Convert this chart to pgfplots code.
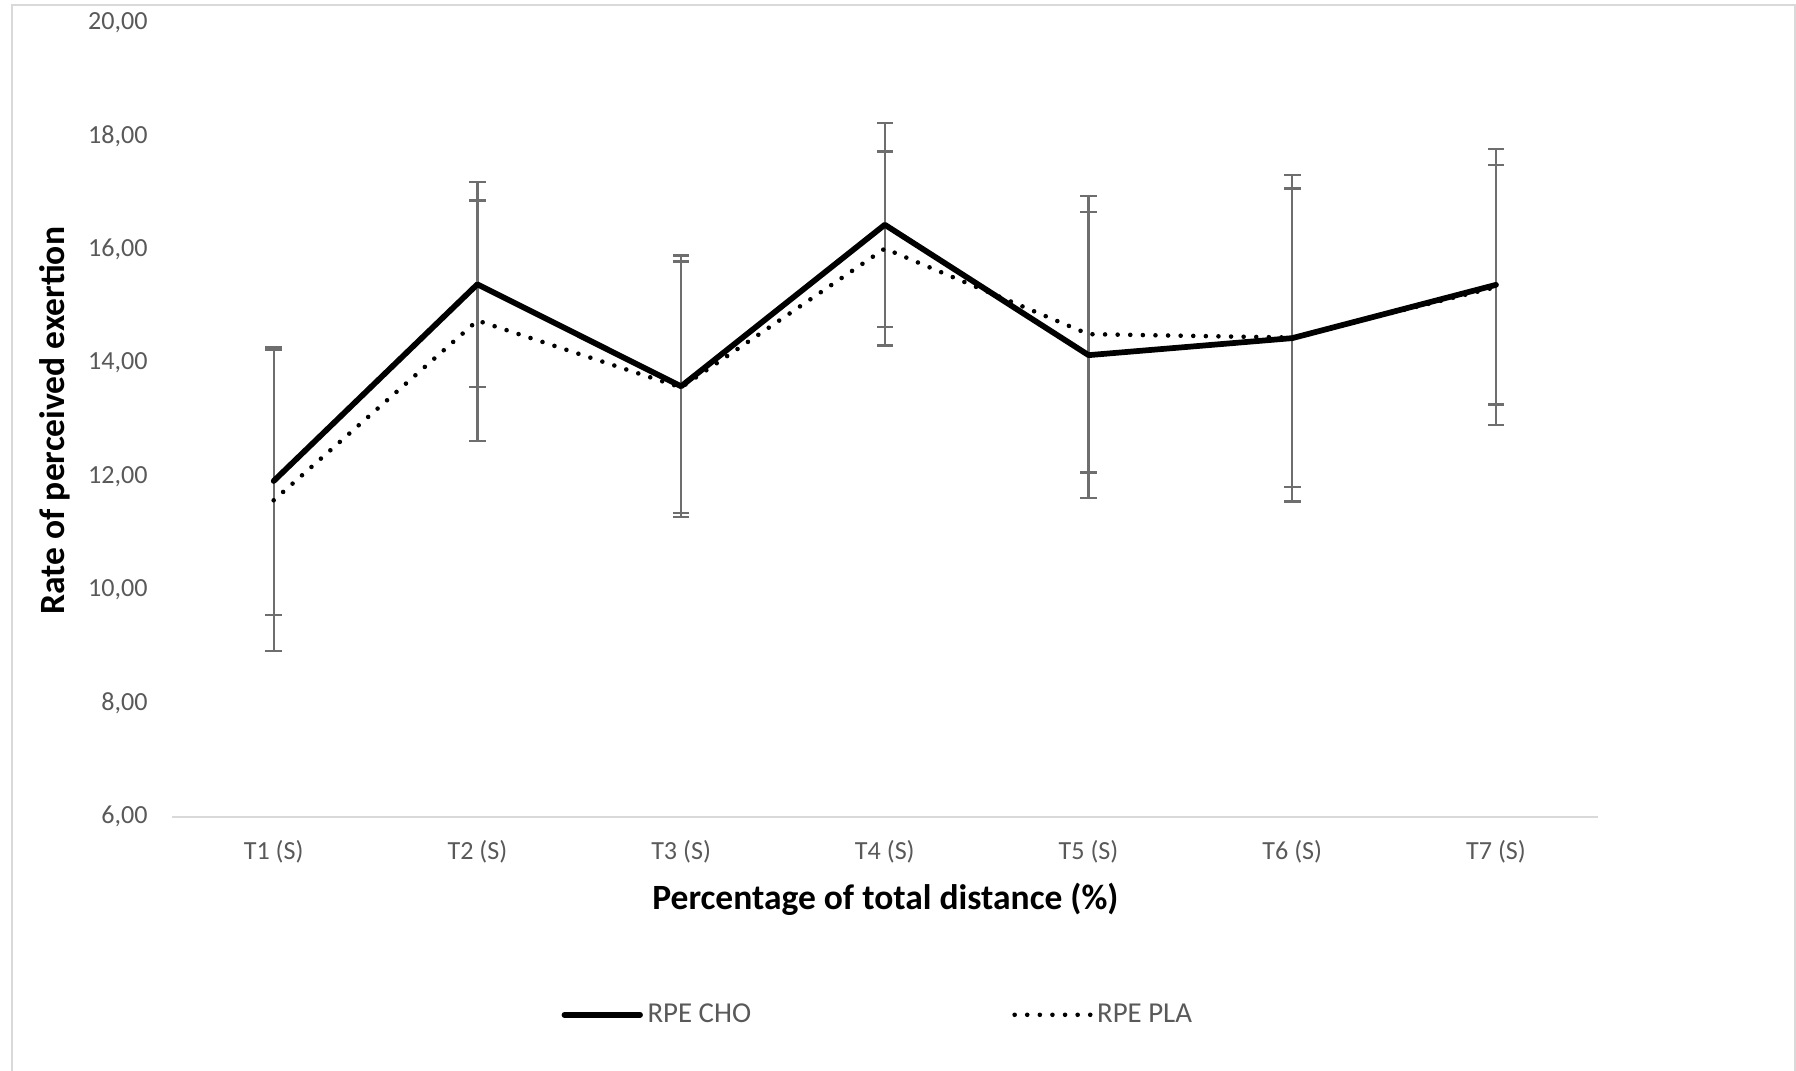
\documentclass[border=0pt]{standalone}
\usepackage{fontspec}
\setmainfont{Carlito}
\usepackage{pgfplots}
\pgfplotsset{compat=1.18}
\definecolor{ticktext}{HTML}{595959}
\definecolor{axisgray}{HTML}{D9D9D9}
\definecolor{errgray}{HTML}{6E6E6E}
\begin{document}
\begin{tikzpicture}[x=1pt,y=1pt]
\useasboundingbox (0,0) rectangle (784,467.5);
\draw[axisgray, line width=0.9pt] (5.25,0) -- (5.25,465.3) -- (783.5,465.3) -- (783.5,0);
\begin{axis}[
  at={(75pt,111pt)}, anchor=south west,
  scale only axis, width=622.5pt, height=346.5pt,
  xmin=-0.5, xmax=6.5, ymin=6, ymax=20,
  xtick={0,...,6},
  xticklabels={T1 (S),T2 (S),T3 (S),T4 (S),T5 (S),T6 (S),T7 (S)},
  ytick={6,8,...,20},
  major tick length=0pt,
  axis x line*=bottom, axis y line*=left,
  x axis line style={axisgray, line width=0.9pt, -},
  y axis line style={draw=none},
  /pgf/number format/assume math mode=true,
  yticklabel={\pgfmathprintnumber[fixed, fixed zerofill, precision=2, use comma]{\tick}},
  tick label style={font=\fontsize{11.4}{13}\selectfont, text=ticktext},
  yticklabel style={anchor=east, xshift=-7pt},
  xticklabel style={anchor=north, yshift=-7pt},
  xlabel={Percentage of total distance (\%)},
  ylabel={Rate of perceived exertion},
  label style={font=\fontsize{15.5}{17}\selectfont\bfseries, text=black},
  xlabel style={at={(axis description cs:0.5004,-0.104)}, anchor=center},
  ylabel style={at={(axis description cs:-0.0819,0.499)}, anchor=center, rotate=0},
  legend columns=2,
  legend style={at={(axis description cs:0.496,-0.2496)}, anchor=center, draw=none, fill=none,
    font=\fontsize{12.6}{14}\selectfont, text=ticktext,
    /tikz/every odd column/.append style={column sep=0pt},
    /tikz/every even column/.append style={column sep=112pt},
    legend cell align=left, inner sep=0pt},
  legend image code/.code={\draw[#1] (0pt,0pt) -- (33pt,0pt);},
  clip=false,
]
% error bars (drawn first, under the lines)
\addplot[forget plot, only marks, mark=*, mark size=0pt, mark options={draw=none, fill=none},
  error bars/.cd, y dir=both, y explicit,
  error bar style={draw=errgray, line width=1pt, solid},
  error mark options={draw=errgray, rotate=90, mark size=3.6pt, line width=1pt, solid}]
  table[x=x, y=y, y error=e] {
x y e
0 11.92 2.36
1 15.39 1.81
2 13.59 2.31
3 16.44 1.80
4 14.14 2.52
5 14.44 2.88
6 15.38 2.11
};
\addplot[forget plot, only marks, mark=*, mark size=0pt, mark options={draw=none, fill=none},
  error bars/.cd, y dir=both, y explicit,
  error bar style={draw=errgray, line width=1pt, solid},
  error mark options={draw=errgray, rotate=90, mark size=3.6pt, line width=1pt, solid}]
  table[x=x, y=y, y error=e] {
x y e
0 11.58 2.66
1 14.75 2.12
2 13.57 2.22
3 16.02 1.71
4 14.51 2.44
5 14.45 2.63
6 15.34 2.43
};
\addplot[black, line width=2.5pt, line join=round, line cap=round, mark=none]
  table[x=x, y=y] {
x y
0 11.92
1 15.39
2 13.59
3 16.44
4 14.14
5 14.44
6 15.38
};
\addlegendentry{RPE CHO}
\addplot[black, line width=2pt, line cap=round, dash pattern=on 0pt off 5.5pt, mark=none]
  table[x=x, y=y] {
x y
0 11.58
1 14.75
2 13.57
3 16.02
4 14.51
5 14.45
6 15.34
};
\addlegendentry{RPE PLA}
\end{axis}
\end{tikzpicture}
\end{document}
